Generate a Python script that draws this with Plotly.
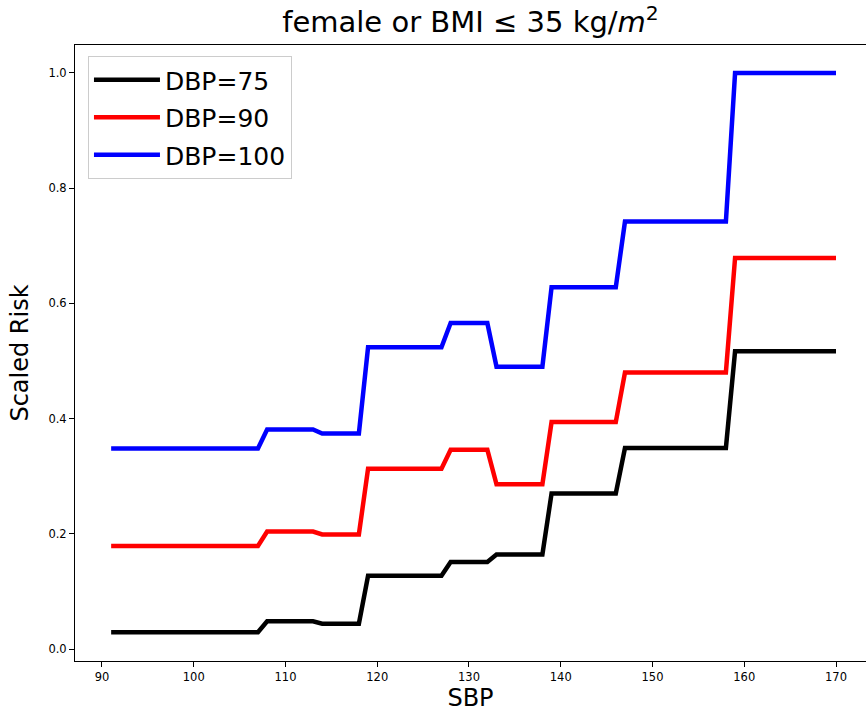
import plotly.graph_objects as go

# SBP breakpoints (values constant between consecutive pairs)
sbp = [91, 107, 108, 113, 114, 118, 119, 127, 128, 132, 133, 138, 139, 146, 147, 158, 159, 170]

risk_dbp75 = [0.029, 0.029, 0.048, 0.048, 0.044, 0.044, 0.127, 0.127, 0.151, 0.151,
              0.164, 0.164, 0.270, 0.270, 0.349, 0.349, 0.517, 0.517]
risk_dbp90 = [0.179, 0.179, 0.204, 0.204, 0.199, 0.199, 0.313, 0.313, 0.346, 0.346,
              0.286, 0.286, 0.394, 0.394, 0.480, 0.480, 0.679, 0.679]
risk_dbp100 = [0.348, 0.348, 0.381, 0.381, 0.374, 0.374, 0.524, 0.524, 0.566, 0.566,
               0.490, 0.490, 0.628, 0.628, 0.742, 0.742, 1.000, 1.000]

series_names = ["DBP=75", "DBP=90", "DBP=100"]
series_values = [risk_dbp75, risk_dbp90, risk_dbp100]
series_colors = ["#000000", "#ff0000", "#0000ff"]

x_ticks = [90, 100, 110, 120, 130, 140, 150, 160, 170]
y_ticks = [0.0, 0.2, 0.4, 0.6, 0.8, 1.0]

FONT = "DejaVu Sans"

fig = go.Figure()
for name, vals, col in zip(series_names, series_values, series_colors):
    fig.add_trace(go.Scatter(
        x=sbp, y=vals, mode="lines", name=name, legendgroup=name,
        line=dict(color=col, width=4.5),
    ))

fig.update_layout(
    width=866, height=713,
    margin=dict(l=75, r=0, t=45, b=52),
    paper_bgcolor="white", plot_bgcolor="white",
    font=dict(family=FONT, color="black"),
    title=dict(
        text="female or BMI ≤ 35 kg/<i>m</i><sup>2</sup>",
        font=dict(family=FONT, size=29, color="black"),
        x=0.5, xref="paper", xanchor="center",
        y=1 - 22 / 713, yref="container", yanchor="middle",
    ),
    showlegend=True,
    legend=dict(
        x=0.0164, y=0.982, xanchor="left", yanchor="top",
        xref="paper", yref="paper",
        font=dict(family=FONT, size=25, color="black"),
        bgcolor="rgba(255,255,255,0.8)",
        bordercolor="#cccccc", borderwidth=1,
        traceorder="grouped", tracegroupgap=2,
        itemwidth=66,
    ),
)

fig.update_xaxes(
    range=[87.06, 173.27],
    tickmode="array", tickvals=x_ticks, ticktext=[str(t) for t in x_ticks],
    ticks="outside", ticklen=5, tickwidth=1, tickcolor="black",
    tickfont=dict(family=FONT, size=11.5, color="black"),
    showline=True, linecolor="black", linewidth=1, mirror=True,
    showgrid=False, zeroline=False,
    title=dict(text="SBP", font=dict(family=FONT, size=24, color="black"), standoff=6),
)
fig.update_yaxes(
    range=[-0.0208, 1.0486],
    tickmode="array", tickvals=y_ticks, ticktext=[f"{t:.1f}" for t in y_ticks],
    ticks="outside", ticklen=5, tickwidth=1, tickcolor="black",
    tickfont=dict(family=FONT, size=11.5, color="black"),
    showline=True, linecolor="black", linewidth=1, mirror=False,
    showgrid=False, zeroline=False,
    title=dict(text="Scaled Risk", font=dict(family=FONT, size=24, color="black"), standoff=13),
)

fig.write_html("out.html")
